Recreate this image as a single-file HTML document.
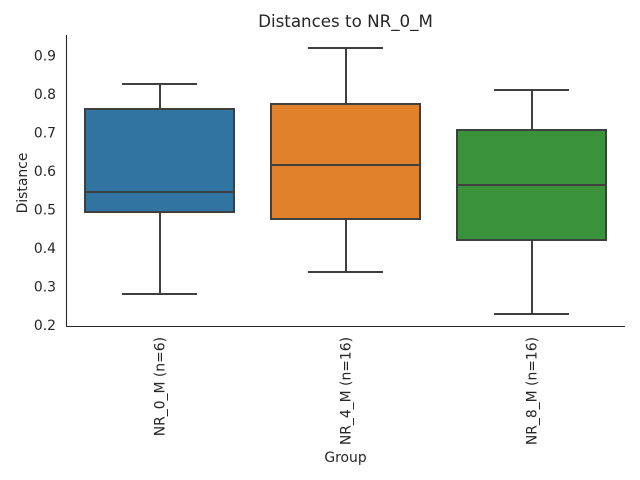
<!DOCTYPE html>
<html><head><style>body{margin:0;background:#fff}svg{display:block}</style></head><body>
<svg width="640" height="480" xmlns="http://www.w3.org/2000/svg" font-family="DejaVu Sans, Liberation Sans, sans-serif">
<rect width="640" height="480" fill="#fff"/>
<text x="345.5" y="27" font-size="16.7" text-anchor="middle" fill="#262626">Distances to NR_0_M</text>
<g stroke="#262626" stroke-width="1.1"><line x1="66.5" y1="35" x2="66.5" y2="326.5"/><line x1="66" y1="326.5" x2="625" y2="326.5"/></g>
<g font-size="13.9" fill="#262626" text-anchor="end">
<text x="56" y="330">0.2</text><text x="56" y="291.5">0.3</text><text x="56" y="253">0.4</text><text x="56" y="214.5">0.5</text><text x="56" y="176">0.6</text><text x="56" y="137.5">0.7</text><text x="56" y="99">0.8</text><text x="56" y="60.5">0.9</text>
</g>
<text transform="translate(27,183) rotate(-90)" font-size="13.9" text-anchor="middle" fill="#262626">Distance</text>
<text x="345.5" y="462" font-size="13.9" text-anchor="middle" fill="#262626">Group</text>
<g font-size="13.9" fill="#262626" text-anchor="end">
<text transform="translate(164.5,337) rotate(-90)">NR_0_M (n=6)</text>
<text transform="translate(350.5,337) rotate(-90)">NR_4_M (n=16)</text>
<text transform="translate(536.5,337) rotate(-90)">NR_8_M (n=16)</text>
</g>
<g stroke="#3f3f3f" stroke-width="2" fill="none">
<line x1="160" y1="84" x2="160" y2="109"/><line x1="160" y1="212" x2="160" y2="294"/><line x1="122" y1="84" x2="197" y2="84"/><line x1="122" y1="294" x2="197" y2="294"/>
<rect x="85" y="109" width="149" height="103" fill="#3274a1"/><line x1="85" y1="192" x2="234" y2="192"/>
<line x1="346" y1="48" x2="346" y2="104"/><line x1="346" y1="219" x2="346" y2="272"/><line x1="308" y1="48" x2="383" y2="48"/><line x1="308" y1="272" x2="383" y2="272"/>
<rect x="271" y="104" width="149" height="115" fill="#e1812c"/><line x1="271" y1="165" x2="420" y2="165"/>
<line x1="532" y1="90" x2="532" y2="130"/><line x1="532" y1="240" x2="532" y2="314"/><line x1="494" y1="90" x2="569" y2="90"/><line x1="494" y1="314" x2="569" y2="314"/>
<rect x="457" y="130" width="149" height="110" fill="#3a923a"/><line x1="457" y1="185" x2="606" y2="185"/>
</g>
</svg>
</body></html>
